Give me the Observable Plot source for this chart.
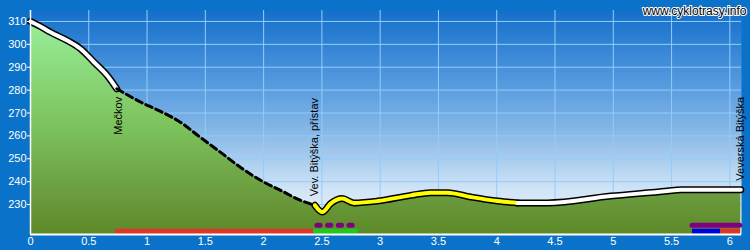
<!DOCTYPE html>
<html><head><meta charset="utf-8">
<script src="https://cdn.jsdelivr.net/npm/d3@7"></script>
<script src="https://cdn.jsdelivr.net/npm/@observablehq/plot@0.6"></script>
<style>body{margin:0;background:#0a72c8;overflow:hidden}</style>
</head><body><div id="chart"></div>
<script>
// Elevation profile (km, m)
const distKm = [0, 0.086, 0.172, 0.315, 0.429, 0.543, 0.658, 0.74, 0.944, 1.116, 1.288, 1.459, 1.631, 1.803, 1.974, 2.146, 2.318, 2.44, 2.504, 2.575, 2.675, 2.775, 2.976, 3.262, 3.433, 3.577, 3.777, 4.006, 4.18, 4.435, 4.979, 5.465, 5.58, 6.094];
const elevM  = [310, 307.8, 305.3, 301.7, 298.1, 292.3, 286.4, 280.6, 274.8, 270.7, 265.9, 259.3, 252.8, 246.2, 240.6, 236.2, 231.8, 229.7, 226.7, 230.4, 232.6, 230.7, 231.5, 234, 235.2, 235.2, 233.3, 231.5, 230.7, 230.7, 233.7, 235.9, 236.5, 236.5];

// Surface segments of the profile line
const segFrom = [0, 0.74, 2.44, 4.18];
const segTo   = [0.74, 2.44, 4.18, 6.094];
const segKind = ["white", "dashed", "yellow", "white"];

// Route markers along the bottom
const routeStart  = [0.73, 2.43, 2.44, 5.68, 5.68, 5.92];
const routeEnd    = [2.43, 2.81, 2.80, 6.09, 5.92, 6.09];
const routeColor  = ["#e0352a", "#22c822", "#800080", "#800080", "#0000e6", "#e0352a"];
const routeLane   = [0, 0, 1, 1, 0, 0];
const routeDashed = [false, false, true, false, false, false];

// Place labels
const placeNames = ["Mečkov", "Vev. Bitýška, přístav", "Veverská Bitýška"];
const placeKm    = [0.74, 2.44, 6.094];
const placeElev  = [280.6, 229.7, 236.5];
const placeAbove = [false, true, true];

const xTicks = [0, 0.5, 1, 1.5, 2, 2.5, 3, 3.5, 4, 4.5, 5, 5.5, 6];
const yTicks = [230, 240, 250, 260, 270, 280, 290, 300, 310];
const xDomain = [0, 6.1];
const yDomain = [216.9, 314.8];
const watermark = "www.cyklotrasy.info";

const profile = distKm.map((d, i) => ({km: d, elev: elevM[i]}));
const segRows = [];
segFrom.forEach((f, s) => {
  profile.filter(p => p.km >= f - 1e-9 && p.km <= segTo[s] + 1e-9)
    .forEach(p => segRows.push({...p, seg: s, kind: segKind[s]}));
});
const routes = routeStart.map((s, i) => ({start: s, end: routeEnd[i], color: routeColor[i], lane: routeLane[i], dashed: routeDashed[i]}));
const places = placeNames.map((n, i) => ({name: n, km: placeKm[i], elev: placeElev[i], above: placeAbove[i]}));

const font = "'Liberation Sans', Arial, sans-serif";
const outlined = segRows.filter(d => d.kind !== "dashed");

const chart = Plot.plot({
  width: 750, height: 250,
  marginLeft: 30, marginRight: 9, marginTop: 10, marginBottom: 16,
  style: {background: "#0a72c8", color: "white", fontFamily: font, fontSize: "11px"},
  x: {domain: xDomain, axis: null},
  y: {domain: yDomain, axis: null},
  marks: [
    Plot.frame({fill: "url(#skyGrad)", stroke: "none"}),
    Plot.gridX(xTicks, {stroke: "#92ccfa", strokeOpacity: 1, strokeWidth: 1}),
    Plot.gridY(yTicks, {stroke: "#92ccfa", strokeOpacity: 1, strokeWidth: 1}),
    Plot.areaY(profile, {x: "km", y1: yDomain[0], y2: "elev", fill: "url(#groundGrad)", curve: "monotone-x"}),
    Plot.line(outlined, {x: "km", y: "elev", z: "seg", stroke: "black", strokeWidth: 7, curve: "monotone-x", strokeLinejoin: "round", strokeLinecap: "round"}),
    Plot.line(outlined, {x: "km", y: "elev", z: "seg", stroke: d => d.kind === "yellow" ? "#ffff00" : "#ffffff", strokeWidth: 4, curve: "monotone-x", strokeLinejoin: "round", strokeLinecap: "round"}),
    Plot.line(segRows.filter(d => d.kind === "dashed"), {x: "km", y: "elev", stroke: "black", strokeWidth: 3, strokeDasharray: "7,4", curve: "monotone-x"}),
    Plot.ruleY(routes.filter(d => d.lane === 0), {x1: "start", x2: "end", y: () => yDomain[0], dy: -3.3, stroke: "color", strokeWidth: 5}),
    Plot.ruleY(routes.filter(d => d.lane === 1 && !d.dashed), {x1: "start", x2: "end", y: () => yDomain[0], dy: -9.3, stroke: "color", strokeWidth: 5, strokeLinecap: "round"}),
    Plot.ruleY(routes.filter(d => d.lane === 1 && d.dashed), {x1: "start", x2: "end", y: () => yDomain[0], dy: -9.3, stroke: "color", strokeWidth: 5, strokeLinecap: "round", strokeDasharray: "3.2,7.5", dx: 2.5}),
    Plot.ruleX([0], {stroke: "white", strokeWidth: 1.5}),
    Plot.ruleY([yDomain[0]], {stroke: "white", strokeWidth: 1.8}),
    Plot.axisX({ticks: xTicks, tickSize: 0, tickPadding: 3, tickFormat: d => String(d), fill: "white", fontSize: 11, label: null}),
    Plot.axisY({ticks: yTicks, tickSize: 3, tickPadding: 1, stroke: "white", fill: "white", fontSize: 11, label: null}),
    Plot.text(places.filter(d => !d.above), {x: "km", y: "elev", text: "name", rotate: -90, textAnchor: "end", dy: 8, dx: 2, fill: "black", fontSize: 11, fontFamily: font}),
    Plot.text(places.filter(d => d.above), {x: "km", y: "elev", text: "name", rotate: -90, textAnchor: "start", dy: -9, fill: "black", fontSize: 11, fontFamily: font}),
    Plot.text([watermark], {frameAnchor: "top-right", text: d => d, dx: 5, dy: -4, textAnchor: "end", fill: "black", stroke: "white", strokeWidth: 2, fontSize: 12, fontFamily: font})
  ]
});

// gradients
const yS = chart.scale("y");
const svg = d3.select(chart);
const defs = svg.insert("defs", ":first-child");
const sky = defs.append("linearGradient").attr("id", "skyGrad").attr("gradientUnits", "userSpaceOnUse")
  .attr("x1", 0).attr("x2", 0).attr("y1", 10).attr("y2", 234);
[[0, "#136fcb"], [0.35, "#5a9de0"], [0.56, "#8cbbe8"], [0.8, "#d0e4f6"], [1, "#f2f7fc"]]
  .forEach(([o, c]) => sky.append("stop").attr("offset", o).attr("stop-color", c));
const ground = defs.append("linearGradient").attr("id", "groundGrad").attr("gradientUnits", "userSpaceOnUse")
  .attr("x1", 0).attr("x2", 0).attr("y1", yS.apply(310)).attr("y2", yS.apply(yDomain[0]));
[[0, "#98ee98"], [0.5, "#7cc25c"], [0.85, "#68983a"], [1, "#5e8a27"]]
  .forEach(([o, c]) => ground.append("stop").attr("offset", o).attr("stop-color", c));

document.getElementById("chart").appendChild(chart);
</script>
</body></html>
